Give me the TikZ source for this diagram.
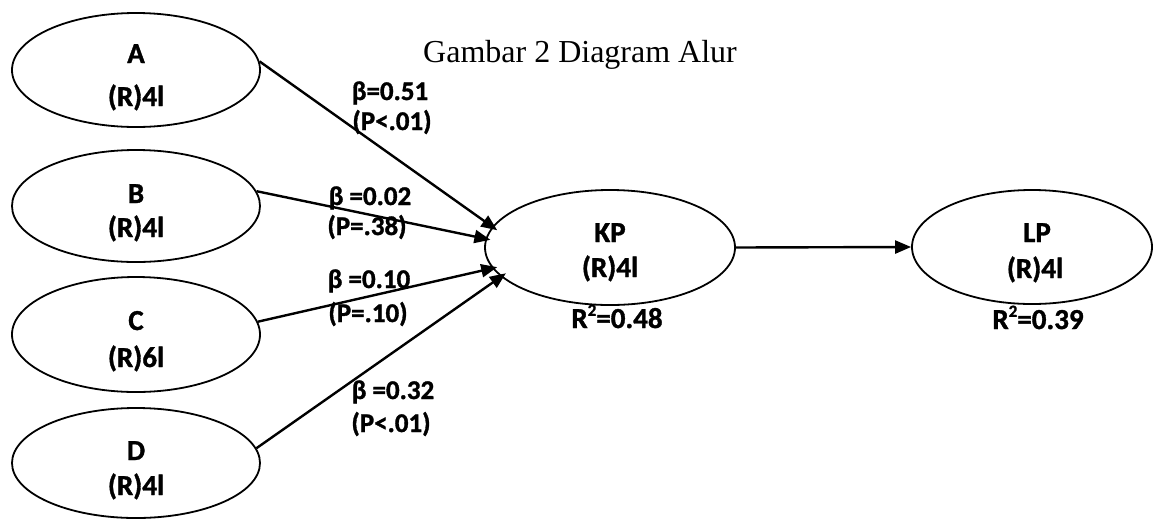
\documentclass[tikz,border=0pt]{standalone}
\usepackage{fontspec}
\setmainfont{Liberation Serif}
\newfontfamily\lblfont{Carlito}[BoldFeatures={FakeBold=1.2}]
\usetikzlibrary{shapes.geometric,arrows.meta}

\newcommand{\rsq}{R\raisebox{0.42em}{\fontsize{17}{17}\selectfont 2}}

\begin{document}
\begin{tikzpicture}[x=1pt,y=-1pt,
  latent/.style={draw, ellipse, line width=1.8pt, inner sep=0pt},
  varname/.style={font=\lblfont\bfseries\fontsize{29}{32}\selectfont, inner sep=0pt, anchor=base},
  coef/.style={font=\lblfont\bfseries\fontsize{27}{30}\selectfont, inner sep=0pt, anchor=base},
  effect/.style={line width=2.4pt, -{Triangle[length=16pt,width=13pt]}},
  ]
\useasboundingbox (0,0) rectangle (1153,520);

% title
\node[font=\fontsize{32}{36}\selectfont, inner sep=0pt, anchor=base west] (title) at (423,62) {Gambar 2 Diagram Alur};

% latent variables
\node[latent, minimum width=248pt, minimum height=114pt] (A) at (136,70) {};
\node[latent, minimum width=248pt, minimum height=112pt] (B) at (136,206) {};
\node[latent, minimum width=248pt, minimum height=115pt] (C) at (136,334.5) {};
\node[latent, minimum width=248pt, minimum height=110pt] (D) at (136,463) {};
\node[latent, minimum width=250pt, minimum height=115pt] (KP) at (610,247.5) {};
\node[latent, minimum width=240pt, minimum height=114pt] (LP) at (1032,247) {};

% variable names and item counts
\node[varname] (Aname) at (136,63) {A};
\node[varname] (Aitems) at (136,106) {(R)4l};
\node[varname] (Bname) at (136,203) {B};
\node[varname] (Bitems) at (136,237) {(R)4l};
\node[varname] (Cname) at (136,330) {C};
\node[varname] (Citems) at (136,367) {(R)6l};
\node[varname] (Dname) at (136,460) {D};
\node[varname] (Ditems) at (136,495) {(R)4l};
\node[varname] (KPname) at (610,242) {KP};
\node[varname] (KPitems) at (610,277) {(R)4l};
\node[varname] (LPname) at (1037,242) {LP};
\node[varname] (LPitems) at (1035,278) {(R)4l};
\node[varname] (KPr) at (617,328) {\rsq=0.48};
\node[varname] (LPr) at (1038,329) {\rsq=0.39};

% paths
\draw[effect, shorten >=-6pt] (A.4) -- (KP.170);
\draw[effect, shorten >=-5pt] (B.7) -- (KP.176);
\draw[effect, shorten >=-5pt] (C.6) -- (KP.190);
\draw[effect, shorten >=-6pt] (D.7) -- (KP.195);
\draw[effect] (KP.east) -- (LP.west);

% path coefficients
\node[coef] (bA) at (390,100) {β=0.51};
\node[coef] (pA) at (392,130) {(P<.01)};
\node[coef] (bB) at (370,205) {β =0.02};
\node[coef] (pB) at (367,235) {(P=.38)};
\node[coef] (bC) at (369,288) {β =0.10};
\node[coef] (pC) at (368,322) {(P=.10)};
\node[coef] (bD) at (393,399) {β =0.32};
\node[coef] (pD) at (391,432) {(P<.01)};
\end{tikzpicture}
\end{document}
